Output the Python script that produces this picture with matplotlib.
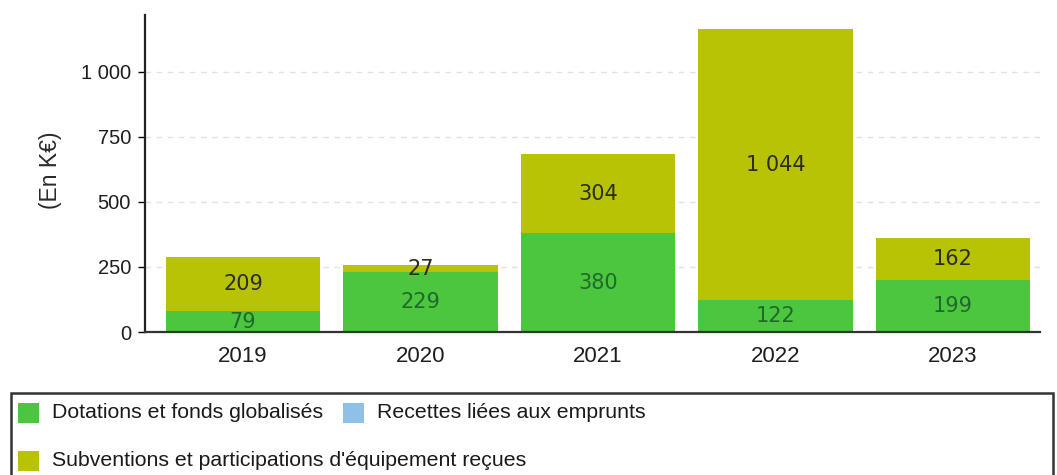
import numpy as np
import matplotlib.pyplot as plt
from matplotlib.patches import Rectangle

plt.rcParams['font.family'] = ['Liberation Sans', 'DejaVu Sans']

annees = ['2019', '2020', '2021', '2022', '2023']
dotations = [79, 229, 380, 122, 199]
subventions = [209, 27, 304, 1044, 162]
emprunts = [0, 0, 0, 0, 0]

serie_noms = ['Dotations et fonds globalisés',
              'Recettes liées aux emprunts',
              "Subventions et participations d'équipement reçues"]

c_vert = '#4cc63f'
c_bleu = '#8fc1e8'
c_jaune = '#b9c305'

W, H = 1057, 475
fig = plt.figure(figsize=(W / 100, H / 100), dpi=100)
ax = fig.add_axes([145 / W, 1 - 332 / H, (1040 - 145) / W, (332 - 15) / H])


def fmt(v):
    return '{:,}'.format(v).replace(',', ' ')


x = np.arange(len(annees))
larg = 0.87
ax.bar(x, dotations, width=larg, color=c_vert, zorder=2)
ax.bar(x, emprunts, width=larg, bottom=dotations, color=c_bleu, zorder=2)
bas = np.array(dotations) + np.array(emprunts)
ax.bar(x, subventions, width=larg, bottom=bas, color=c_jaune, zorder=2)

# valeurs au centre de chaque segment
for i in range(len(annees)):
    ax.text(x[i], dotations[i] / 2, fmt(dotations[i]), ha='center', va='center',
            fontsize=15, family='DejaVu Sans', color='#1f6a2a', zorder=3)
    ax.text(x[i], bas[i] + subventions[i] / 2, fmt(subventions[i]), ha='center',
            va='center', fontsize=15, family='DejaVu Sans', color='#2b2b1e', zorder=3)

ax.set_xlim(-0.552, 4.49)
ax.set_ylim(0, 1219)
ax.set_yticks([0, 250, 500, 750, 1000])
ax.set_yticklabels([fmt(v) for v in [0, 250, 500, 750, 1000]], fontsize=14.5, color='#1e1e1e')
ax.set_xticks(x)
ax.set_xticklabels(annees, fontsize=16, color='#1e1e1e')
ax.tick_params(axis='x', length=0, pad=10)
ax.tick_params(axis='y', length=5, width=1, pad=5)
ax.yaxis.grid(True, linestyle=(0, (4, 4)), color='#e2e2e2', linewidth=1, zorder=0)
ax.set_axisbelow(True)
for s in ['top', 'right']:
    ax.spines[s].set_visible(False)
ax.spines['left'].set_linewidth(1.6)
ax.spines['bottom'].set_linewidth(1.6)
ax.spines['left'].set_color('#222222')
ax.spines['bottom'].set_color('#333333')
ax.set_ylabel('(En K€)', fontsize=16.5, color='#2a2a2a')
ax.yaxis.set_label_coords(-0.093, 0.51)

# légende dessinée à la main
def px(xp, yp):
    return xp / W, 1 - yp / H

x0, y0 = px(11, 393)
x1, y1 = px(1053, 480)
fig.patches.append(Rectangle((x0, y1), x1 - x0, y0 - y1, transform=fig.transFigure,
                             fill=False, edgecolor='#333333', linewidth=1.8))

entrees = [(18, 413, c_vert, serie_noms[0]),
           (343, 413, c_bleu, serie_noms[1]),
           (18, 461, c_jaune, serie_noms[2])]
for xp, yp, col, nom in entrees:
    a, b = px(xp, yp + 10)
    fig.patches.append(Rectangle((a, b), 21 / W, 20 / H, transform=fig.transFigure,
                                 facecolor=col, edgecolor='none'))
    tx, ty = px(xp + 34, yp)
    fig.text(tx, ty, nom, ha='left', va='center', fontsize=15.3, color='#1a1a1a')

fig.savefig('out.png', dpi=100)
